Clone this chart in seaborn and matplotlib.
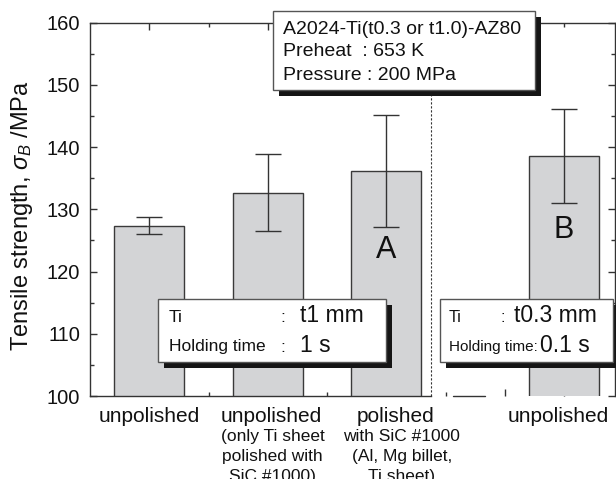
import matplotlib
matplotlib.use('Agg')
import matplotlib.pyplot as plt
import matplotlib.patches as mpatches
from matplotlib.ticker import MultipleLocator, FixedLocator
import pandas as pd
import seaborn as sns

# values
conditions = ['unpolished', 'unpolished', 'polished', 'unpolished']
notes = ['', '(only Ti sheet\npolished with\nSiC #1000)',
         'with SiC #1000\n(Al, Mg billet,\nTi sheet)', '']
strength = [127.4, 132.7, 136.2, 138.6]
error = [1.4, 6.2, 9.0, 7.6]
marks = ['', '', 'A', 'B']

# layout
x_pos = [1, 2, 3, 4.5]
label_shift = [0.0, 0.03, 0.08, -0.05]
note_shift = [0.0, 0.04, 0.13, 0.0]
mark_y = [0, 0, 250.5, 230]
split_x = 3.38

W, H = 616, 479
sns.set_style('ticks')
plt.rcParams['font.family'] = ['Liberation Sans', 'DejaVu Sans']
plt.rcParams['mathtext.fontset'] = 'custom'
plt.rcParams['mathtext.rm'] = 'Liberation Sans'
plt.rcParams['mathtext.it'] = 'Liberation Sans:italic'

df = pd.DataFrame({'pos': x_pos, 'strength': strength})

fig = plt.figure(figsize=(W / 100, H / 100), dpi=100)
ax = fig.add_axes([90 / W, 1 - 396 / H, 525 / W, 373.3 / H])

sns.barplot(data=df, x='pos', y='strength', native_scale=True, width=0.59,
            color='#d3d4d6', saturation=1, edgecolor='#3a3a3a', linewidth=1,
            errorbar=None, ax=ax, zorder=2)
ax.errorbar(x_pos, strength, yerr=error, fmt='none', ecolor='#333333',
            elinewidth=1, capsize=9.5, capthick=1, zorder=3)

ax.set_xlim(0.5, 4.93)
ax.set_ylim(100, 160)
ax.yaxis.set_major_locator(MultipleLocator(10))
ax.yaxis.set_minor_locator(MultipleLocator(5))
ax.xaxis.set_major_locator(FixedLocator([1, 2, 3, 4]))
ax.xaxis.set_minor_locator(FixedLocator([1.5, 2.5, 3.5, 4.5]))
ax.set_xticklabels([])
ax.set_xlabel('')
ax.tick_params(which='both', direction='in', top=True, right=True,
               color='#333333', width=1)
ax.tick_params(which='major', length=5)
ax.tick_params(which='minor', length=3)
ax.tick_params(axis='y', labelsize=14.5, pad=7, labelcolor='#111111')
for s in ax.spines.values():
    s.set_color('#333333')
    s.set_linewidth(1)
# bottom axis line is broken right of the divider in the original
ax.spines['bottom'].set_bounds(0.5, split_x)
ax.plot([3.56, 3.83], [100, 100], color='#333333', lw=1, clip_on=False, zorder=4)

ax.set_ylabel(r'Tensile strength, $\sigma_B$ /MPa', fontsize=17, color='#111111')
ax.yaxis.set_label_coords(-0.1295, 0.482)
ax.yaxis.label.set_verticalalignment('center')

ax.axvline(split_x, color='#333333', lw=0.8, ls=(0, (2, 1.6)), zorder=1)

for x, c, n, ls, ns in zip(x_pos, conditions, notes, label_shift, note_shift):
    ax.annotate(c, xy=(x + ls, 0), xycoords=('data', 'axes fraction'),
                xytext=(0, -21), textcoords='offset pixels',
                ha='center', va='center', fontsize=15, color='#111111')
    if n:
        ax.annotate(n, xy=(x + ns, 0), xycoords=('data', 'axes fraction'),
                    xytext=(0, -33), textcoords='offset pixels',
                    ha='center', va='top', fontsize=12.5, linespacing=1.42,
                    color='#111111')

for x, m, yy in zip(x_pos, marks, mark_y):
    if m:
        ax.annotate(m, xy=(x, 0), xycoords=('data', 'axes fraction'),
                    xytext=(0, 396 - yy), textcoords='offset pixels',
                    ha='center', va='center', fontsize=22, color='#111111')


def fx(px):
    return px / W


def fy(py):
    return 1 - py / H


def box(x0, y0, x1, y1, off=6):
    fig.add_artist(mpatches.Rectangle((fx(x0 + off), fy(y1 + off)), fx(x1 - x0), (y1 - y0) / H,
                                      transform=fig.transFigure, facecolor='#151515',
                                      edgecolor='none', zorder=5))
    fig.add_artist(mpatches.Rectangle((fx(x0), fy(y1)), fx(x1 - x0), (y1 - y0) / H,
                                      transform=fig.transFigure, facecolor='white',
                                      edgecolor='#555555', lw=1, zorder=6))


def ftext(px, py, s, size):
    fig.text(fx(px), fy(py), s, ha='left', va='center', fontsize=size,
             color='#111111', zorder=7)


box(273, 11, 535, 90)
ftext(283, 29, 'A2024-Ti(t0.3 or t1.0)-AZ80', 14)
ftext(283, 52, 'Preheat  : 653 K', 14)
ftext(283, 75, 'Pressure : 200 MPa', 14)

box(157.5, 299, 385.5, 362)
ftext(169, 318, 'Ti', 12.5)
ftext(280, 318, ':', 12.5)
ftext(300, 316, 't1 mm', 16.5)
ftext(169, 347, 'Holding time', 12.5)
ftext(280, 347, ':', 12.5)
ftext(300, 345, '1 s', 16.5)

box(440, 299, 613, 362)
ftext(449, 318, 'Ti', 11.5)
ftext(501, 318, ':', 11.5)
ftext(514, 316, 't0.3 mm', 16.5)
ftext(449, 347, 'Holding time:', 11)
ftext(540, 345, '0.1 s', 16.5)

fig.savefig('out.png', dpi=100)
